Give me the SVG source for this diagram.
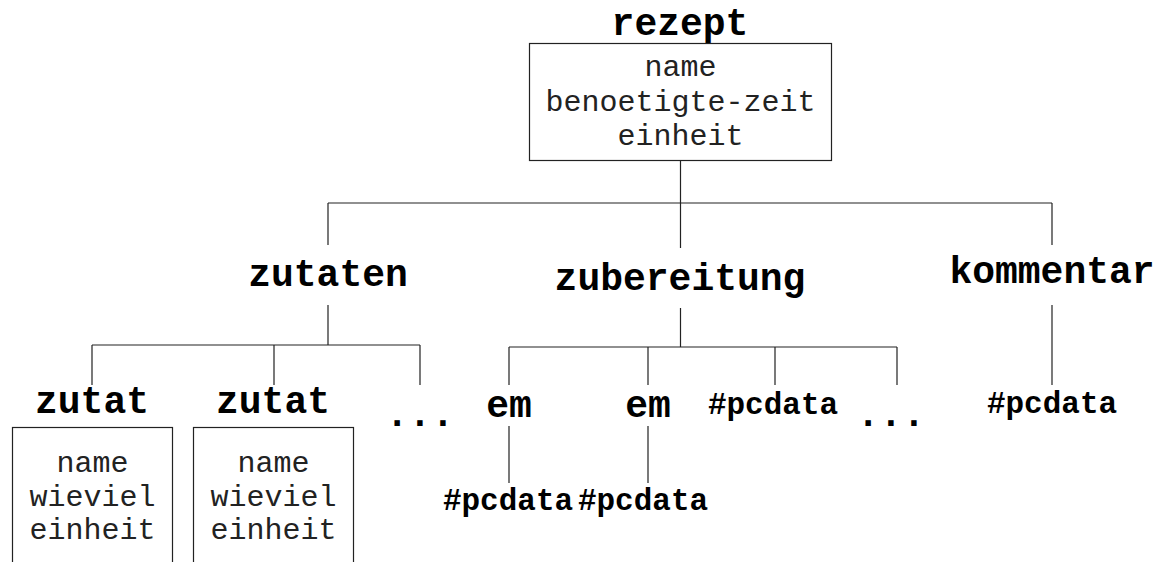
<svg xmlns="http://www.w3.org/2000/svg" width="1158" height="562" viewBox="0 0 1158 562">
<style>
.lbl{font-family:"Liberation Mono","Courier New",monospace;font-weight:bold;font-size:38px;fill:#000;text-anchor:middle}
.pc{font-family:"Liberation Mono","Courier New",monospace;font-weight:bold;font-size:31px;fill:#000;text-anchor:middle}
.att{font-family:"Liberation Mono","Courier New",monospace;font-size:30px;fill:#222;text-anchor:middle}
.box{fill:#fff;stroke:#222;stroke-width:1.2}
.ln{fill:none;stroke:#222;stroke-width:1.2}
</style>
<rect width="1158" height="562" fill="#fff"/>
<g id="connectors" class="ln">
<path d="M680.5 161V248M328 203H1052M328 203V245M1052 203V245"/>
<path d="M328 305V345M92 345H420M92 345V385M274 345V385M420 345V385"/>
<path d="M680.5 308V347M509 347H897M509 347V385M648 347V385M775 347V385M897 347V385"/>
<path d="M509 426V483M648 426V483"/>
<path d="M1052 305V385"/>
</g>
<g id="rezept">
<text class="lbl" x="680" y="35">rezept</text>
<rect class="box" x="529.5" y="43.5" width="302" height="117"/>
<text class="att" x="680.5" y="76">name</text>
<text class="att" x="680.5" y="111">benoetigte-zeit</text>
<text class="att" x="680.5" y="145">einheit</text>
</g>
<g id="zutaten"><text class="lbl" x="328" y="286">zutaten</text></g>
<g id="zubereitung"><text class="lbl" x="680" y="290">zubereitung</text></g>
<g id="kommentar"><text class="lbl" x="1052" y="283">kommentar</text></g>
<g id="zutat1">
<text class="lbl" x="92" y="413">zutat</text>
<rect class="box" x="12.5" y="427.5" width="160" height="200"/>
<text class="att" x="92.5" y="472">name</text>
<text class="att" x="92.5" y="506">wieviel</text>
<text class="att" x="92.5" y="539">einheit</text>
</g>
<g id="zutat2">
<text class="lbl" x="273" y="413">zutat</text>
<rect class="box" x="193.5" y="427.5" width="160" height="200"/>
<text class="att" x="273.5" y="472">name</text>
<text class="att" x="273.5" y="506">wieviel</text>
<text class="att" x="273.5" y="539">einheit</text>
</g>
<g id="dots1"><text class="lbl" x="420" y="426">...</text></g>
<g id="em1"><text class="lbl" x="509" y="417">em</text></g>
<g id="em2"><text class="lbl" x="648" y="417">em</text></g>
<g id="pcdata-z"><text class="pc" x="773" y="414">#pcdata</text></g>
<g id="dots2"><text class="lbl" x="891" y="426">...</text></g>
<g id="pcdata-em1"><text class="pc" x="508" y="510">#pcdata</text></g>
<g id="pcdata-em2"><text class="pc" x="643" y="510">#pcdata</text></g>
<g id="pcdata-k"><text class="pc" x="1052" y="413">#pcdata</text></g>
</svg>
